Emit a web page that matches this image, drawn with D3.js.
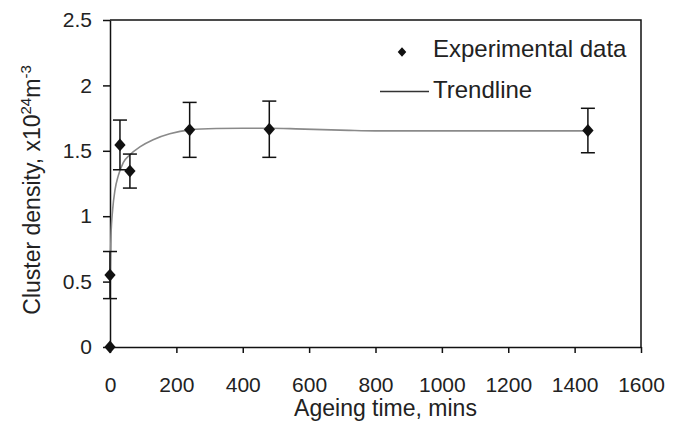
<!DOCTYPE html>
<html>
<head>
<meta charset="utf-8">
<script src="https://cdn.jsdelivr.net/npm/d3@7"></script>
<style>
  body { margin: 0; background: #fff; }
  text { font-family: "Liberation Sans", Arial, sans-serif; fill: #222; }
</style>
</head>
<body>
<svg id="drawing_region"></svg>
<script>
// measured points (ageing time in mins, cluster density x10^24 m^-3)
const times = [0, 0, 30, 60, 240, 480, 1440]
const density = [0, 0.55, 1.545, 1.345, 1.66, 1.665, 1.655]
const errors = [0, 0.18, 0.19, 0.13, 0.21, 0.215, 0.17]

// trendline
const trendTimes = [0, 3, 8, 15, 25, 40, 60, 90, 130, 180, 240, 320, 400, 480, 560, 640, 720, 800, 1000, 1200, 1440]
const trendValues = [0.55, 0.85, 1.05, 1.2, 1.31, 1.41, 1.47, 1.53, 1.585, 1.63, 1.66, 1.67, 1.672, 1.672, 1.668, 1.662, 1.656, 1.652, 1.652, 1.652, 1.652]

const xTicks = [0, 200, 400, 600, 800, 1000, 1200, 1400, 1600]
const yTicks = [0, 0.5, 1, 1.5, 2, 2.5]

const legendLabels = ['Experimental data', 'Trendline']

class ErrorPlot {
    constructor(config) {
        this.config = config
        this.init()
    }

    init() {
        let self = this
        const m = self.config.margin
        self.svg = d3.select(self.config.parent)
            .attr('width', self.config.width)
            .attr('height', self.config.height)

        self.inner_width = self.config.width - m.left - m.right
        self.inner_height = self.config.height - m.top - m.bottom

        self.chart = self.svg.append('g')
            .attr('transform', `translate(${m.left},${m.top})`)

        self.xscale = d3.scaleLinear().domain([0, 1600]).range([0, self.inner_width])
        self.yscale = d3.scaleLinear().domain([0, 2.5]).range([self.inner_height, 0])
    }

    render() {
        let self = this
        const W = self.inner_width, H = self.inner_height

        // frame (top + right)
        self.chart.append('path')
            .attr('d', `M0,0H${W}V${H}`)
            .attr('fill', 'none')
            .attr('stroke', '#111')
            .attr('stroke-width', 1.5)

        // x axis
        const xaxis = d3.axisBottom(self.xscale).tickValues(xTicks)
            .tickSize(6).tickSizeOuter(0).tickPadding(24).tickFormat(d => d)
        const gx = self.chart.append('g')
            .attr('transform', `translate(0,${H})`)
            .call(xaxis)
        gx.selectAll('text').attr('font-size', 21).attr('font-family', null).attr('fill', '#222')

        // y axis
        const yaxis = d3.axisLeft(self.yscale).tickValues(yTicks)
            .tickSize(7).tickSizeOuter(0).tickPadding(11).tickFormat(d => String(d))
        const gy = self.chart.append('g').call(yaxis)
        gy.selectAll('text').attr('font-size', 21).attr('font-family', null).attr('fill', '#222')

        self.svg.selectAll('.domain, .tick line').attr('stroke', '#111').attr('stroke-width', 1.5)

        // axis titles
        self.svg.append('text')
            .attr('x', self.config.margin.left + W / 2 + 10)
            .attr('y', 416)
            .attr('text-anchor', 'middle')
            .attr('font-size', 23)
            .text('Ageing time, mins')

        const ylab = self.svg.append('text')
            .attr('transform', 'translate(40,190) rotate(-90)')
            .attr('text-anchor', 'middle')
            .attr('font-size', 23)
        ylab.append('tspan').text('Cluster density, x10')
        ylab.append('tspan').attr('font-size', 15).attr('dy', -9).text('24')
        ylab.append('tspan').attr('dy', 9).text('m')
        ylab.append('tspan').attr('font-size', 15).attr('dy', -9).text('-3')

        // trendline
        const trend = trendTimes.map((t, i) => ({ t: t, v: trendValues[i] }))
        const line = d3.line()
            .x(d => self.xscale(d.t))
            .y(d => self.yscale(d.v))
            .curve(d3.curveMonotoneX)
        self.chart.append('path')
            .attr('d', line(trend))
            .attr('fill', 'none')
            .attr('stroke', '#8a8a8a')
            .attr('stroke-width', 1.6)

        // error bars
        const pts = times.map((t, i) => ({ t: t, v: density[i], e: errors[i] }))
        const cap = 7
        const eb = self.chart.append('g').attr('stroke', '#111').attr('stroke-width', 1.5)
        pts.filter(d => d.e > 0).forEach(d => {
            const x = self.xscale(d.t)
            const y0 = self.yscale(d.v - d.e), y1 = self.yscale(d.v + d.e)
            eb.append('line').attr('x1', x).attr('x2', x).attr('y1', y0).attr('y2', y1)
            eb.append('line').attr('x1', x - cap).attr('x2', x + cap).attr('y1', y0).attr('y2', y0)
            eb.append('line').attr('x1', x - cap).attr('x2', x + cap).attr('y1', y1).attr('y2', y1)
        })

        // markers
        const diamond = d3.symbol().type(d3.symbolDiamond2).size(105)
        self.chart.selectAll('.pt').data(pts).enter()
            .append('path')
            .attr('class', 'pt')
            .attr('d', diamond)
            .attr('transform', d => `translate(${self.xscale(d.t)},${self.yscale(d.v)}) scale(0.88,1)`)
            .attr('fill', '#111')

        // legend
        self.svg.append('path')
            .attr('d', diamond.size(60)())
            .attr('transform', 'translate(402,52) scale(0.88,1)')
            .attr('fill', '#111')
        self.svg.append('line')
            .attr('x1', 380).attr('x2', 429).attr('y1', 91.5).attr('y2', 91.5)
            .attr('stroke', '#333').attr('stroke-width', 1.3)
        self.svg.selectAll('.leg').data(legendLabels).enter()
            .append('text')
            .attr('class', 'leg')
            .attr('x', 433)
            .attr('y', (d, i) => 57 + i * 41)
            .attr('font-size', 24)
            .text(d => d)
    }
}

const config = {
    parent: '#drawing_region',
    width: 676,
    height: 423,
    margin: { top: 20, right: 35, bottom: 76, left: 110 }
}
const plot = new ErrorPlot(config)
plot.render()
</script>
</body>
</html>
